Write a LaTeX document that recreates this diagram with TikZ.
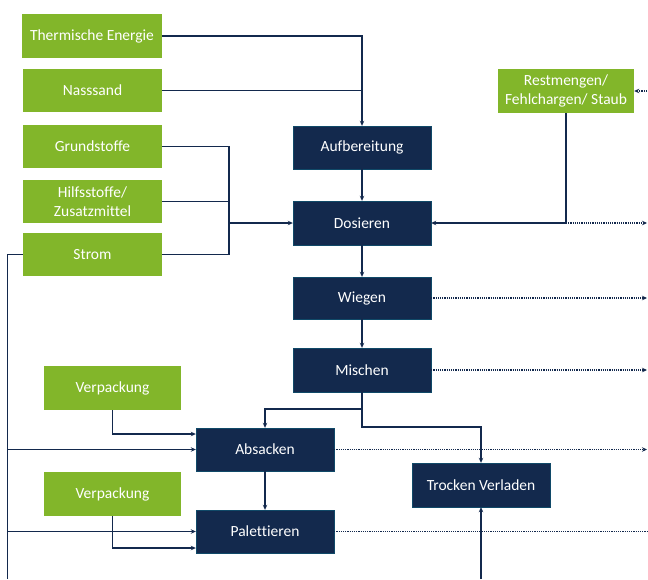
\documentclass[tikz,border=0pt]{standalone}
\usepackage{fontspec}
\setmainfont{Carlito}[Ligatures={NoCommon}]
\usepackage{tikz}
\usetikzlibrary{arrows.meta}

\definecolor{navy}{HTML}{13294D}
\definecolor{gruen}{HTML}{82B62A}

\begin{document}
\begin{tikzpicture}[
		x=1pt, y=-1pt,
		every node/.style={rectangle, inner sep=0pt, text=white, align=center,
			font=\fontsize{15.5}{19}\selectfont},
		gruenbox/.style={fill=gruen, minimum width=139pt, minimum height=43pt},
		blaubox/.style={fill=navy, draw=navy!85!cyan, line width=0.4pt,
			minimum width=138pt, minimum height=43pt},
		pfeil/.style={draw=navy, line width=1.2pt, -{Stealth[length=5pt,width=4.5pt]}},
		linie/.style={draw=navy, line width=1.2pt},
		punkt/.style={draw=navy, line width=1.1pt, dash pattern=on 1.2pt off 1pt,
			-{Stealth[length=5pt,width=4.5pt]}}
	]
  \useasboundingbox (0,0) rectangle (648,579);
  % Eingaenge
  \node (thermisch) [gruenbox, minimum width=140pt, minimum height=44pt] at (92, 36) {Thermische Energie};
  \node (nasssand) [gruenbox] at (92.5, 90.5) {Nasssand};
  \node (grund) [gruenbox] at (92.5, 146.5) {Grundstoffe};
  \node (hilfs) [gruenbox] at (92.5, 201.5) {Hilfsstoffe/\\Zusatzmittel};
  \node (strom) [gruenbox] at (92.5, 254.5) {Strom};
  \node (verp_a) [gruenbox, minimum width=137pt, minimum height=44pt] at (112.5, 388) {Verpackung};
  \node (verp_b) [gruenbox, minimum width=137pt, minimum height=44pt] at (112.5, 494) {Verpackung};
  \node (rest) [gruenbox, minimum width=136pt, minimum height=44pt] at (566, 91) {Restmengen/\\Fehlchargen/ Staub};
  % Prozessschritte
  \node (aufb) [blaubox] at (362, 147.5) {Aufbereitung};
  \node (dosieren) [blaubox, minimum height=44pt] at (362, 223) {Dosieren};
  \node (wiegen) [blaubox, minimum height=42pt] at (362, 298) {Wiegen};
  \node (mischen) [blaubox, minimum height=44pt] at (362, 370) {Mischen};
  \node (absacken) [blaubox] at (265, 449.5) {Absacken};
  \node (palett) [blaubox] at (265, 531.5) {Palettieren};
  \node (trocken) [blaubox, minimum height=44pt] at (481, 485) {Trocken Verladen};
  % Hilfspunkte
  \coordinate (sammel) at (229, 223);
  \coordinate (stromfuss) at (7.5, 579);
  \coordinate (abzweig) at (362, 409);
  \coordinate (knick) at (362, 427);
  \coordinate (trockenfuss) at (481, 579);
  \coordinate (rand) at (647, 0);
  \coordinate (rand_b) at (648, 0);

  \draw [pfeil] (thermisch) -| (aufb);
  \draw [linie] (nasssand.east) -- (nasssand.east -| aufb.north);
  \draw [linie] (grund.east) -| (sammel);
  \draw [linie] (hilfs.east) -- (hilfs.east -| sammel);
  \draw [linie] (strom.east) -| (sammel);
  \draw [pfeil] (sammel) -- (dosieren.west);
  \draw [linie] (strom.west) -| (stromfuss);
  \draw [pfeil] (stromfuss |- absacken.west) -- (absacken.west);
  \draw [pfeil] (stromfuss |- palett.west) -- (palett.west);
  \draw [pfeil] (verp_a.south) |- ([yshift=15.5pt]absacken.west);
  \draw [pfeil] (verp_b.south) |- ([yshift=-16.5pt]palett.west);
  \draw [pfeil] (aufb) -- (dosieren);
  \draw [pfeil] (dosieren) -- (wiegen);
  \draw [pfeil] (wiegen) -- (mischen);
  \draw [pfeil] (mischen.south) -- (abzweig) -| (absacken.north);
  \draw [pfeil] (abzweig) -- (knick) -| (trocken.north);
  \draw [pfeil] (absacken) -- (palett);
  \draw [pfeil] (trockenfuss) -- (trocken.south);
  \draw [pfeil] (rest.south) |- (dosieren.east);
  % Rueckfuehrung
  \draw [punkt] (rest.south |- dosieren.east) -- (dosieren.east -| rand);
  \draw [punkt] (wiegen.east) -- (wiegen.east -| rand);
  \draw [punkt] (mischen.east) -- (mischen.east -| rand);
  \draw [punkt] (absacken.east) -- (absacken.east -| rand);
  \draw [punkt, -] (palett.east) -- (palett.east -| rand_b);
  \draw [punkt] (rest.east -| rand) -- (rest.east);
\end{tikzpicture}
\end{document}
